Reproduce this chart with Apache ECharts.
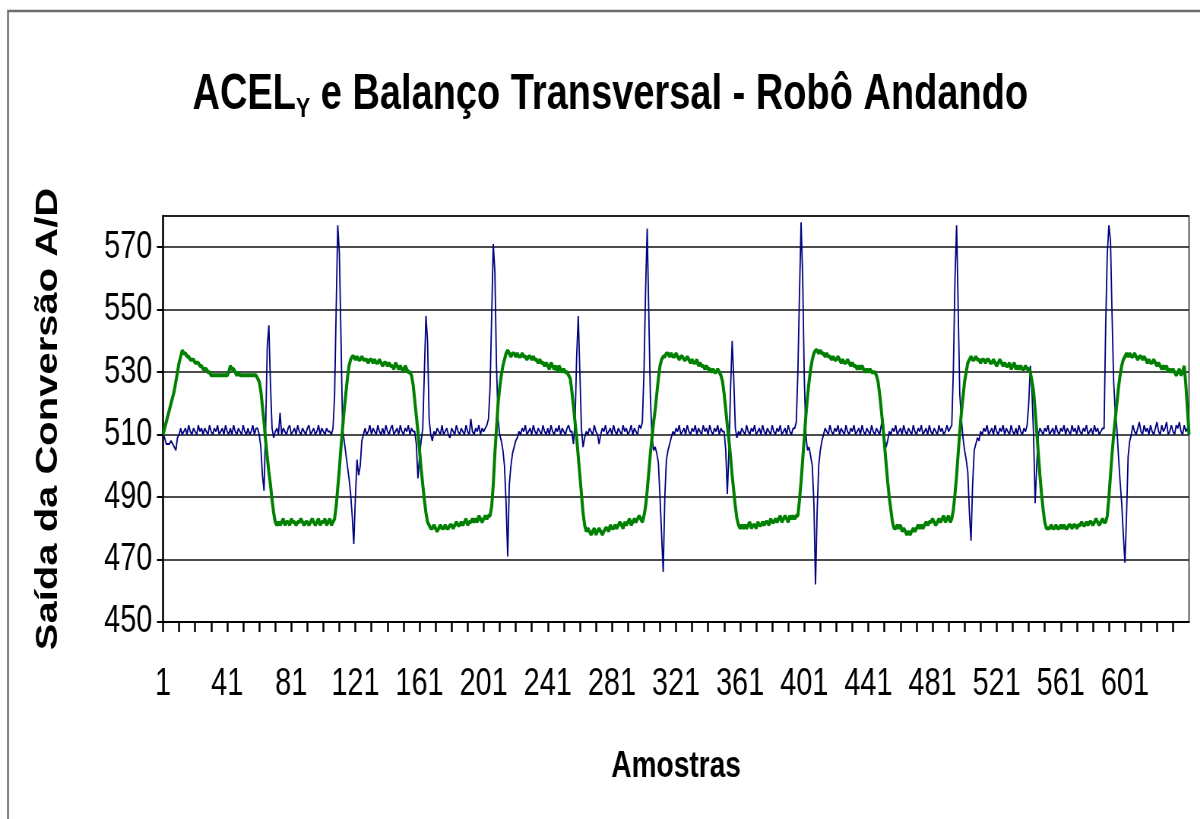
<!DOCTYPE html>
<html>
<head>
<meta charset="utf-8">
<script src="https://cdn.jsdelivr.net/npm/echarts@6/dist/echarts.min.js"></script>
<style>
  html, body { margin: 0; padding: 0; background: #fff; width: 1200px; height: 819px; overflow: hidden; }
  /* The chart is laid out on a wider canvas and squeezed horizontally,
     giving the tall, condensed lettering of the original figure. */
  #chart { width: 1579px; height: 819px; transform: scaleX(0.76); transform-origin: 0 0; }
</style>
</head>
<body>
<div id="chart"></div>
<script>
// Lateral balance (green trace), A/D output per sample
const balancoTransversal = [
  510,512,514,516,518,520,522,524,527,530,
  533,535,537,536,536,535,535,534,534,534,
  533,533,533,532,532,531,531,531,530,530,
  529,529,529,529,529,529,529,529,529,529,
  529,530,532,531,531,530,529,530,529,529,
  529,529,529,529,529,529,529,529,529,528,
  527,524,519,514,508,503,498,494,489,485,
  482,481,482,481,482,483,481,482,482,481,
  483,482,482,481,482,482,483,482,481,482,
  482,481,482,483,482,481,482,483,481,482,
  482,483,481,482,483,481,482,483,487,493,
  499,506,512,518,523,528,532,534,535,535,
  534,535,534,534,535,534,534,534,533,534,
  534,533,534,533,533,534,533,532,533,533,
  532,533,532,532,531,533,532,531,532,531,
  530,532,531,530,530,529,526,521,516,511,
  505,499,494,489,485,482,481,480,480,481,
  480,479,480,481,480,480,481,480,480,481,
  481,480,481,482,481,481,482,481,482,483,
  481,482,482,483,482,483,482,484,483,482,
  483,484,483,484,484,487,494,504,512,520,
  525,529,532,534,536,537,536,535,536,536,
  535,536,535,535,536,535,535,534,535,535,
  534,535,534,534,533,534,533,533,532,533,
  532,531,533,532,531,532,530,532,531,530,
  531,530,530,529,528,524,519,514,509,503,
  497,491,485,481,479,480,479,478,479,480,
  478,479,480,479,478,479,480,480,479,481,
  480,480,481,480,481,482,481,480,482,481,
  482,483,481,482,483,482,483,484,483,482,
  484,487,492,498,504,509,514,518,523,528,
  532,534,535,535,536,536,535,536,535,535,
  536,535,534,535,535,534,534,535,534,533,
  534,533,533,534,532,533,532,532,531,532,
  531,531,530,531,530,530,531,530,529,527,
  523,518,513,508,503,497,492,487,483,481,
  480,481,480,481,480,481,482,480,481,481,
  480,482,481,481,482,481,482,482,481,483,
  482,482,483,482,483,484,482,483,484,483,
  482,484,483,484,483,484,484,489,495,502,
  509,516,522,527,531,534,536,537,537,536,
  537,536,536,535,536,535,535,534,535,534,
  534,535,534,533,534,533,533,534,533,532,
  533,532,532,531,532,531,532,531,530,531,
  530,531,530,530,530,529,527,523,518,513,
  507,501,495,490,486,482,480,480,481,480,
  481,479,480,479,478,479,478,479,480,479,
  480,481,480,481,480,481,482,481,482,482,
  483,482,481,482,483,482,483,484,482,483,
  484,482,483,486,491,497,504,511,517,522,
  527,530,533,534,535,534,534,535,534,534,
  533,534,534,533,534,534,533,533,534,533,
  532,533,534,533,532,533,532,532,533,531,
  532,533,531,532,531,532,531,531,532,531,
  531,530,527,524,518,511,504,497,491,486,
  482,480,480,480,481,480,480,481,480,480,
  481,480,481,480,480,481,481,480,481,481,
  480,481,481,482,481,481,482,481,482,482,
  481,482,483,482,481,482,483,482,482,484,
  490,497,504,510,515,520,525,529,532,534,
  535,536,535,536,535,535,536,535,534,535,
  535,534,535,534,533,534,533,533,534,533,
  532,533,532,531,532,531,532,530,531,530,
  531,530,529,530,531,529,530,532,526,518,
  510
];

// Lateral acceleration ACEL_Y (blue trace), A/D output per sample
const acelY = [
  510,509,507,507,507,508,507,506,505,509,
  510,512,510,511,512,510,513,511,510,512,
  511,510,513,511,512,510,512,511,510,513,
  511,510,512,511,513,510,511,512,510,513,
  511,510,512,510,513,511,510,512,511,510,
  513,511,510,512,510,511,513,510,512,512,
  510,506,497,492,512,538,545,526,512,509,
  511,512,510,517,510,512,511,510,512,513,
  510,511,512,510,513,511,510,512,511,510,
  512,513,510,511,512,510,511,513,510,512,
  511,510,512,511,511,510,512,522,550,577,
  568,541,512,508,504,500,496,491,484,475,
  490,502,497,500,508,510,512,510,511,513,
  510,512,511,510,513,511,510,512,510,513,
  511,510,512,513,510,511,512,510,513,511,
  510,512,511,513,510,512,511,511,507,496,
  503,508,512,530,548,540,515,510,508,511,
  510,512,511,510,513,510,511,512,510,509,
  512,511,510,513,511,510,512,511,510,513,
  511,510,515,511,510,512,511,513,510,512,
  511,512,513,515,525,548,571,562,532,515,
  510,508,505,500,488,471,494,500,504,506,
  508,509,511,510,512,511,513,510,511,512,
  510,513,511,510,512,511,510,513,511,510,
  512,510,513,511,510,512,511,513,510,512,
  511,510,512,513,511,511,507,514,535,548,
  530,512,506,509,511,510,512,511,510,513,
  511,510,507,510,512,511,513,510,511,512,
  510,513,511,510,512,511,510,513,511,512,
  510,511,513,510,512,511,510,513,512,514,
  530,556,576,549,522,509,505,506,504,501,
  490,478,466,490,502,505,507,509,511,510,
  512,511,513,510,511,512,510,513,511,510,
  512,511,513,510,512,511,510,513,511,512,
  510,513,511,510,512,511,513,510,512,511,
  511,505,491,505,525,540,528,512,509,511,
  510,512,511,510,513,511,510,512,511,513,
  510,511,512,510,513,511,510,512,511,510,
  513,511,510,512,511,513,510,511,512,510,
  513,511,510,512,512,514,530,555,578,560,
  528,510,505,506,503,500,488,462,485,500,
  505,508,510,512,511,510,513,511,510,512,
  511,513,510,512,511,510,513,511,510,512,
  511,513,510,511,512,510,513,511,510,512,
  511,510,513,511,510,512,511,510,513,515,
  509,506,508,511,510,512,511,513,510,511,
  512,510,513,511,510,512,511,510,513,511,
  510,512,511,513,510,511,512,510,513,511,
  510,512,511,510,513,511,512,510,511,513,
  511,512,513,531,560,577,550,523,515,509,
  505,502,498,485,476,494,505,507,509,508,
  511,510,512,511,513,510,511,512,510,513,
  511,510,512,511,513,510,512,511,510,513,
  511,510,512,510,513,511,510,512,511,513,
  520,532,524,510,488,500,510,512,511,510,
  512,511,513,510,511,512,510,513,511,510,
  512,511,513,510,512,511,510,513,511,512,
  510,513,511,510,512,511,513,510,511,512,
  510,513,511,512,510,511,512,512,545,568,
  577,572,548,527,517,512,503,495,488,478,
  469,484,503,508,510,513,511,510,512,514,
  511,510,513,511,512,510,513,511,510,512,
  514,511,510,513,511,512,514,510,511,513,
  511,510,513,512,514,511,510,513,511,512,
  510
];

// Sample numbers along the horizontal axis (1, 2, 3, ...)
const amostras = acelY.map((_, k) => String(k + 1));

const FONT = '"Liberation Sans", Arial, Helvetica, sans-serif';

const chart = echarts.init(document.getElementById('chart'), null, { renderer: 'canvas' });

chart.setOption({
  animation: false,
  backgroundColor: '#ffffff',
  textStyle: { fontFamily: FONT },
  grid: {
    left: 214.5, right: 14.5, top: 216, bottom: 197,
    show: true, borderColor: '#222', borderWidth: 1.5,
    backgroundColor: 'transparent'
  },
  xAxis: {
    type: 'category',
    data: amostras,
    boundaryGap: false,
    axisLine: { show: true, lineStyle: { color: '#000', width: 2 } },
    axisTick: { show: true, interval: 9, length: 10, lineStyle: { color: '#000', width: 2.5 } },
    axisLabel: {
      interval: 39, showMaxLabel: false, margin: 44,
      fontSize: 38, color: '#000', fontFamily: FONT
    },
    splitLine: { show: false },
    name: 'Amostras',
    nameLocation: 'middle',
    nameGap: 126,
    nameTextStyle: { fontSize: 37, fontWeight: 'bold', color: '#000', fontFamily: FONT }
  },
  yAxis: {
    type: 'value',
    min: 450, max: 580, interval: 20,
    axisLine: { show: true, lineStyle: { color: '#000', width: 2.5 } },
    axisTick: { show: true, inside: false, length: 8, lineStyle: { color: '#000', width: 2 } },
    axisLabel: { showMaxLabel: false, margin: 14, fontSize: 38, color: '#000', fontFamily: FONT },
    splitLine: { show: true, lineStyle: { color: '#111', width: 1.5 } },
    name: 'Saída da Conversão A/D',
    nameLocation: 'middle',
    nameRotate: 90,
    nameGap: 131,
    nameTextStyle: { fontSize: 40, fontWeight: 'bold', color: '#000', fontFamily: FONT }
  },
  series: [
    {
      name: 'ACEL Y',
      type: 'line',
      data: acelY,
      showSymbol: false,
      symbol: 'none',
      sampling: null,
      lineStyle: { color: '#000080', width: 1.8 },
      z: 2
    },
    {
      name: 'Balanço Transversal',
      type: 'line',
      data: balancoTransversal,
      showSymbol: false,
      symbol: 'none',
      sampling: null,
      lineStyle: { color: '#008000', width: 4 },
      z: 3
    }
  ],
  graphic: [
    {
      // chart title with the subscript Y after ACEL
      type: 'text',
      x: 803, y: 95,
      silent: true,
      style: {
        text: '{m|ACEL}{s|Y}{m| e Balanço Transversal - Robô Andando}',
        align: 'center',
        verticalAlign: 'middle',
        rich: {
          m: { fontSize: 50, lineHeight: 60, fontWeight: 'bold', fontFamily: FONT, fill: '#000', verticalAlign: 'middle' },
          s: { fontSize: 28, lineHeight: 28, padding: [30, 0, 0, 0], fontWeight: 'bold', fontFamily: FONT, fill: '#000', verticalAlign: 'top' }
        }
      }
    },
    {
      // outer chart frame
      type: 'rect',
      silent: true,
      z: 100,
      shape: { x: 10.5, y: 11, width: 3000, height: 3000 },
      style: { fill: 'none', stroke: '#6e6e6e', lineWidth: 2.5 }
    }
  ]
});
</script>
</body>
</html>
